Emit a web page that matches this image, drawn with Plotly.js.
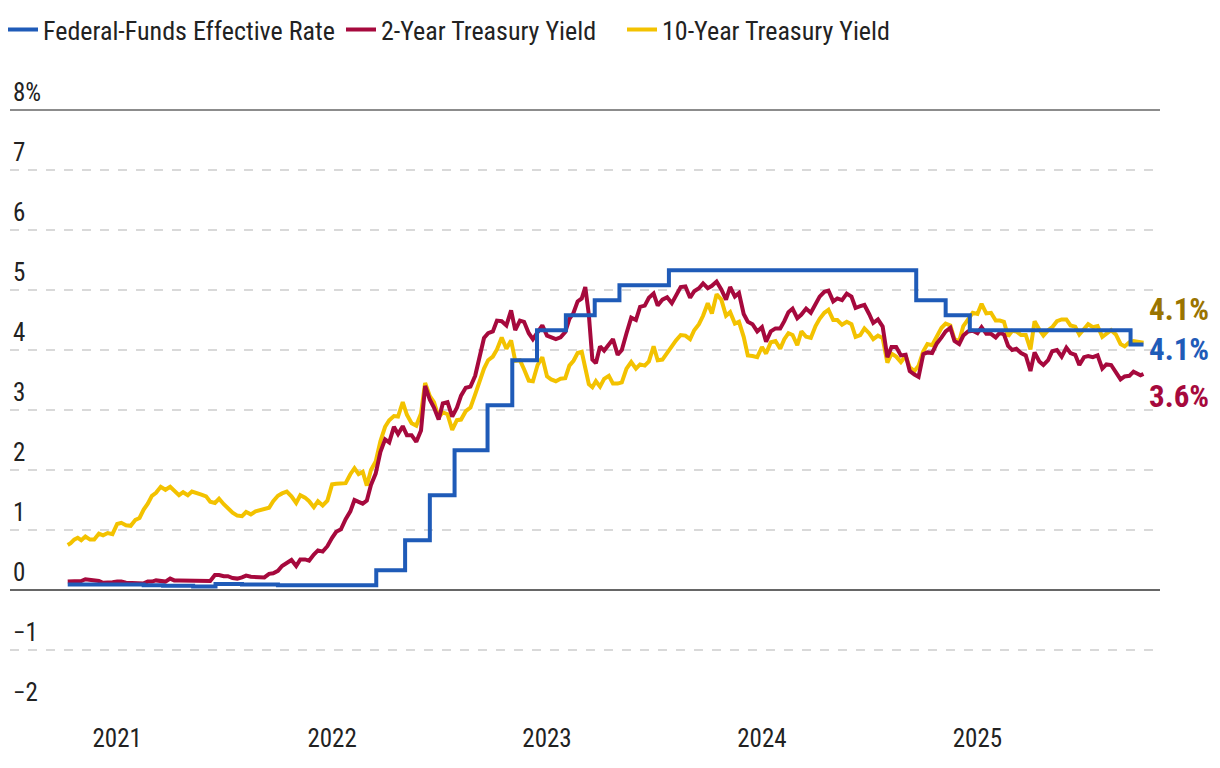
<!DOCTYPE html>
<html>
<head>
<meta charset="utf-8">
<script src="https://cdn.plot.ly/plotly-3.0.1.min.js"></script>
<style>
  html, body { margin: 0; padding: 0; background: #ffffff; }
  #chart { width: 1220px; height: 768px; }
</style>
</head>
<body>
<div id="chart"></div>
<script>
// ---------------- DATA ----------------
const seriesNames = ['Federal-Funds Effective Rate', '2-Year Treasury Yield', '10-Year Treasury Yield'];
const seriesColors = ['#1F5BB8', '#A6093D', '#F3C200'];
const labelColors = ['#1F5BB8', '#A6093D', '#9A7400'];

const firstDate = '2020-10-09';
const lastDate = '2025-10-10';

const months = [
  '2020-10','2020-11','2020-12',
  '2021-01','2021-02','2021-03','2021-04','2021-05','2021-06','2021-07','2021-08','2021-09','2021-10','2021-11','2021-12',
  '2022-01','2022-02','2022-03','2022-04','2022-05','2022-06','2022-07','2022-08','2022-09','2022-10','2022-11','2022-12',
  '2023-01','2023-02','2023-03','2023-04','2023-05','2023-06','2023-07','2023-08','2023-09','2023-10','2023-11','2023-12',
  '2024-01','2024-02','2024-03','2024-04','2024-05','2024-06','2024-07','2024-08','2024-09','2024-10','2024-11','2024-12',
  '2025-01','2025-02','2025-03','2025-04','2025-05','2025-06','2025-07','2025-08','2025-09','2025-10'
];

// 10-Year Treasury yield, several readings per month (%)
const tenYear = [
  [0.75,0.78,0.84,0.87],[0.83,0.89,0.84,0.84],[0.94,0.91,0.95,0.93],
  [1.10,1.12,1.08,1.07],[1.17,1.20,1.34,1.44],[1.57,1.62,1.72,1.67],[1.72,1.66,1.58,1.63],[1.58,1.64,1.62,1.59],[1.56,1.47,1.45,1.52],
  [1.43,1.36,1.29,1.24],[1.23,1.30,1.26,1.31],[1.33,1.34,1.37,1.48],[1.57,1.61,1.64,1.56],[1.45,1.58,1.54,1.48],[1.38,1.48,1.41,1.49],
  [1.76,1.77,1.78,1.78],[1.93,2.03,1.93,1.97],[1.74,2.00,2.14,2.48],[2.72,2.83,2.90,2.89],[3.13,2.92,2.78,2.74],[2.94,3.45,3.23,3.13],
  [2.88,2.96,2.93,2.67],[2.83,2.84,2.98,3.04],[3.26,3.45,3.69,3.83],[3.89,4.01,4.21,4.02],[4.16,3.82,3.83,3.68],[3.49,3.48,3.75,3.88],
  [3.56,3.51,3.48,3.52],[3.53,3.74,3.82,3.95],[3.97,3.70,3.43,3.38,3.48],[3.39,3.52,3.57,3.44],[3.44,3.46,3.69,3.80],[3.69,3.76,3.74,3.81],
  [4.06,3.83,3.84,3.96],[4.05,4.16,4.25,4.24],[4.18,4.33,4.43,4.57],[4.78,4.61,4.93,4.84],[4.57,4.63,4.44,4.47],[4.22,3.91,3.90,3.88],
  [4.05,3.94,4.13,4.15],[4.02,4.18,4.28,4.25],[4.08,4.31,4.22,4.20],[4.40,4.52,4.62,4.67],[4.50,4.50,4.42,4.47],[4.43,4.22,4.25,4.36],
  [4.28,4.18,4.24,4.20],[3.79,3.94,3.89,3.80],[3.90,3.71,3.65,3.74],[3.98,4.10,4.08,4.24],[4.37,4.44,4.41,4.18],[4.15,4.40,4.52,4.62],
  [4.60,4.77,4.61,4.62],[4.49,4.49,4.47,4.23],[4.32,4.31,4.25,4.25],[4.01,4.48,4.34,4.24],[4.33,4.38,4.48,4.51],[4.51,4.41,4.39,4.26],
  [4.35,4.43,4.38,4.40],[4.22,4.27,4.33,4.26],[4.10,4.06,4.13,4.15],[4.12,4.12]
];

// 2-Year Treasury yield, several readings per month (%)
const twoYear = [
  [0.14,0.14,0.15,0.15],[0.15,0.18,0.17,0.16],[0.15,0.12,0.12,0.13],
  [0.14,0.14,0.12,0.12],[0.11,0.11,0.11,0.14],[0.14,0.16,0.15,0.14],[0.19,0.16,0.16,0.16],[0.16,0.16,0.15,0.15],[0.15,0.15,0.25,0.25],
  [0.23,0.23,0.20,0.19],[0.21,0.24,0.22,0.22],[0.21,0.21,0.27,0.28],[0.32,0.40,0.45,0.50],[0.40,0.51,0.51,0.49],[0.59,0.66,0.64,0.73],
  [0.87,0.97,1.01,1.18],[1.31,1.50,1.47,1.44],[1.49,1.75,1.94,2.30],[2.51,2.46,2.72,2.60],[2.73,2.58,2.58,2.47],[2.66,3.40,3.17,3.04],
  [2.84,3.11,3.13,2.89],[3.04,3.24,3.37,3.39],[3.57,3.87,4.20,4.28],[4.31,4.49,4.48,4.41],[4.66,4.33,4.49,4.47],[4.28,4.18,4.31,4.41],
  [4.24,4.22,4.18,4.21],[4.30,4.52,4.62,4.81],[4.86,5.05,4.59,3.84,3.78],[4.06,3.99,4.09,4.18],[3.92,4.00,4.28,4.54],[4.50,4.72,4.74,4.87],
  [4.94,4.74,4.84,4.88],[4.78,4.90,5.05,5.06],[4.87,4.98,5.03,5.11],[5.03,5.07,5.14,5.01],[4.84,5.05,4.89,4.95],[4.60,4.47,4.43,4.31],
  [4.38,4.14,4.31,4.36],[4.36,4.48,4.63,4.69],[4.53,4.59,4.69,4.62],[4.75,4.89,4.97,4.99],[4.81,4.86,4.83,4.94],[4.89,4.70,4.73,4.75],
  [4.60,4.45,4.51,4.39],[3.88,4.05,4.05,3.91],[3.92,3.65,3.59,3.55],[3.93,3.96,3.95,4.11],[4.21,4.31,4.37,4.15],[4.10,4.24,4.31,4.32],
  [4.28,4.38,4.27,4.27],[4.21,4.29,4.26,4.07],[4.00,4.02,3.95,3.91],[3.65,3.96,3.81,3.75],[3.83,3.98,4.00,3.89],[4.04,3.95,3.92,3.75],
  [3.88,3.90,3.88,3.91],[3.69,3.76,3.75,3.62],[3.51,3.56,3.57,3.64],[3.58,3.60]
];

// Federal-funds effective rate: value in force from each date
const fedDates = [
  '2020-10-09','2021-02-15','2021-03-20','2021-05-10','2021-06-17','2021-08-01','2021-10-01',
  '2022-03-17','2022-05-05','2022-06-16','2022-07-28','2022-09-22','2022-11-03','2022-12-15',
  '2023-02-02','2023-03-23','2023-05-04','2023-07-27',
  '2024-09-19','2024-11-08','2024-12-19','2025-09-18','2025-10-10'
];
const fedRate = [
  0.09,0.08,0.07,0.06,0.10,0.09,0.08,
  0.33,0.83,1.58,2.33,3.08,3.83,4.33,
  4.58,4.83,5.08,5.33,
  4.83,4.58,4.33,4.09,4.09
];

const yTickVals = [-2,-1,0,1,2,3,4,5,6,7,8];
const yTickText = ['\u22122','\u22121','0','1','2','3','4','5','6','7','8%'];
const xTickVals = ['2021-01-01','2022-01-01','2023-01-01','2024-01-01','2025-01-01'];
const xTickText = ['2021','2022','2023','2024','2025'];

// ---------------- BUILD ----------------
function buildDates(monthList, values, first, last) {
  const xs = [], ys = [];
  const fd = parseInt(first.slice(8, 10), 10);
  const ld = parseInt(last.slice(8, 10), 10);
  monthList.forEach((m, k) => {
    const yr = parseInt(m.slice(0, 4), 10), mo = parseInt(m.slice(5, 7), 10);
    const dim = new Date(Date.UTC(yr, mo, 0)).getUTCDate();
    const arr = values[k];
    const n = arr.length;
    const isLast = k === monthList.length - 1;
    const start = k === 0 ? fd : 1;
    const end = isLast ? ld : dim + 1;
    arr.forEach((v, i) => {
      const day = isLast ? start + (i + 1) * (end - start) / n : start + i * (end - start) / n;
      const t = Date.UTC(yr, mo - 1, 1) + (day - 1) * 86400000;
      xs.push(new Date(t).toISOString().slice(0, 10));
      ys.push(v);
    });
  });
  return { x: xs, y: ys };
}

const ten = buildDates(months, tenYear, firstDate, lastDate);
const two = buildDates(months, twoYear, firstDate, lastDate);

const FONT = "'Roboto Condensed', Roboto, sans-serif";
const TXT = '#222222';

const traces = [
  { x: ten.x, y: ten.y, name: seriesNames[2], type: 'scatter', mode: 'lines', legend: 'legend3',
    line: { color: seriesColors[2], width: 4 }, hoverinfo: 'skip' },
  { x: two.x, y: two.y, name: seriesNames[1], type: 'scatter', mode: 'lines', legend: 'legend2',
    line: { color: seriesColors[1], width: 4 }, hoverinfo: 'skip' },
  { x: fedDates, y: fedRate, name: seriesNames[0], type: 'scatter', mode: 'lines', legend: 'legend',
    line: { color: seriesColors[0], width: 4, shape: 'hv' }, hoverinfo: 'skip' }
];

const lastTen = ten.y[ten.y.length - 1];
const lastTwo = two.y[two.y.length - 1];
const lastFed = fedRate[fedRate.length - 1];

const endLabels = [
  { v: lastTen, color: labelColors[2], shift: 33 },
  { v: lastFed, color: labelColors[0], shift: -5 },
  { v: lastTwo, color: labelColors[1], shift: -22 }
].map(d => ({
  xref: 'paper', x: 1, xanchor: 'left', xshift: -13,
  yref: 'y', y: d.v, yanchor: 'middle', yshift: d.shift,
  text: '<b>' + d.v.toFixed(1) + '%</b>', showarrow: false,
  font: { family: FONT, size: 31, color: d.color }
}));

function legendAt(xPx) {
  return {
    orientation: 'h', xref: 'container', yref: 'container',
    x: xPx / 1220, y: 0.992, xanchor: 'left', yanchor: 'top',
    font: { family: FONT, size: 26, color: TXT }, itemwidth: 30
  };
}

const layout = {
  width: 1220, height: 768,
  margin: { l: 10, r: 60, t: 110, b: 58 },
  paper_bgcolor: '#ffffff', plot_bgcolor: '#ffffff',
  font: { family: FONT, size: 25, color: TXT },
  showlegend: true,
  legend: legendAt(3),
  legend2: legendAt(341),
  legend3: legendAt(622),
  xaxis: {
    type: 'date', range: ['2020-07-03', '2025-11-07'],
    tickvals: xTickVals, ticktext: xTickText,
    showgrid: false, zeroline: false, showline: false, ticks: '',
    tickfont: { family: FONT, size: 25, color: TXT },
    ticklabelstandoff: 11, fixedrange: true
  },
  yaxis: {
    range: [-2, 8], tickvals: yTickVals, ticktext: yTickText,
    showgrid: true, gridcolor: '#d9d9d9', gridwidth: 1.5, griddash: 'dash',
    zeroline: true, zerolinecolor: '#666666', zerolinewidth: 2,
    showline: false, ticks: '',
    ticklabelposition: 'inside top', ticklabelstandoff: 0, ticklabeloverflow: 'allow',
    tickfont: { family: FONT, size: 25, color: TXT }, fixedrange: true
  },
  shapes: [
    { type: 'line', xref: 'paper', yref: 'paper', x0: 0, x1: 1, y0: 1, y1: 1,
      line: { color: '#666666', width: 1.5 } }
  ],
  annotations: endLabels
};

Plotly.newPlot('chart', traces, layout, { displayModeBar: false, staticPlot: true });
</script>
</body>
</html>
